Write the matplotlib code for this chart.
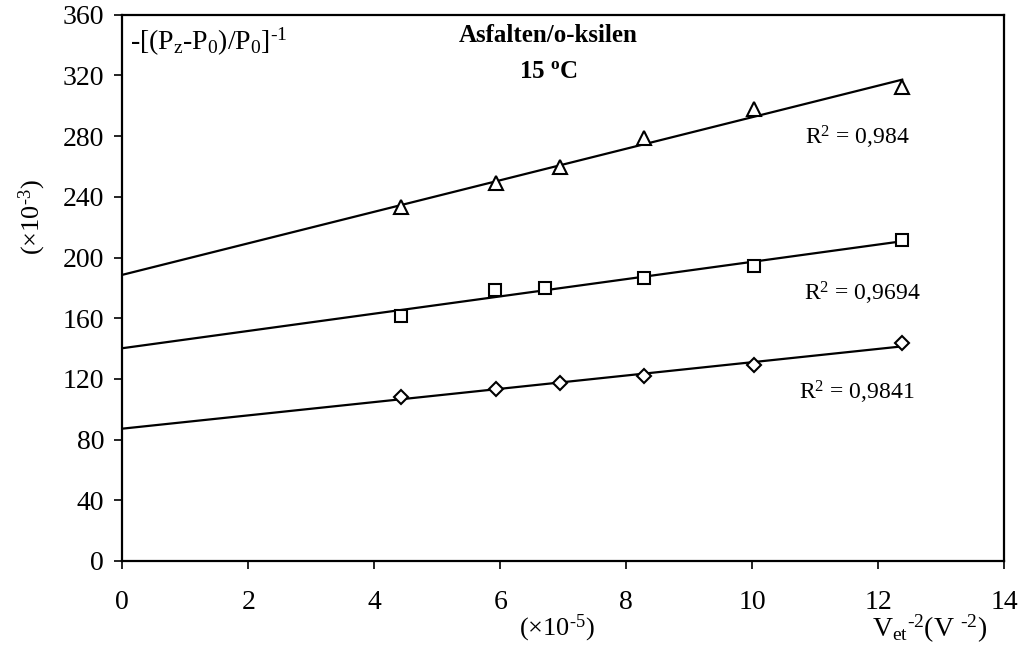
import numpy as np
import matplotlib
matplotlib.use("Agg")
import matplotlib.pyplot as plt

plt.rcParams['font.family'] = ['Liberation Serif', 'DejaVu Serif']
plt.rcParams['mathtext.fontset'] = 'custom'
plt.rcParams['mathtext.rm'] = 'Liberation Serif'
plt.rcParams['mathtext.it'] = 'Liberation Serif:italic'
plt.rcParams['mathtext.bf'] = 'Liberation Serif:bold'

# data (x in 1e-5 V^-2, y in 1e-3)
tri_x = [4.43, 5.93, 6.95, 8.28, 10.03, 12.38]
tri_y = [233.0, 248.8, 259.7, 278.6, 297.6, 312.5]
sq_x = [4.43, 5.92, 6.71, 8.28, 10.03, 12.38]
sq_y = [161.6, 178.8, 180.1, 186.5, 194.4, 211.8]
dia_x = [4.43, 5.93, 6.95, 8.28, 10.03, 12.38]
dia_y = [107.9, 113.5, 117.6, 121.6, 129.3, 143.6]
r2_labels = ['0,984', '0,9694', '0,9841']

H = '\u2010'  # plain hyphen inside mathtext

fig = plt.figure(figsize=(10.32, 6.5), dpi=100)
ax = fig.add_axes([122.3/1032, 1-561/650, (1004.3-122.3)/1032, (561-14.7)/650])

series = [(tri_x, tri_y, '^', 10), (sq_x, sq_y, 's', 8), (dia_x, dia_y, 'D', 7)]
for x, y, m, ms in series:
    x = np.array(x); y = np.array(y)
    k, b = np.polyfit(x, y, 1)
    xx = np.array([0, x.max()])
    ax.plot(xx, k*xx + b, color='black', lw=1.6, zorder=2)
    ax.plot(x, y, ls='none', marker=m, ms=ms, mfc='white', mec='black', mew=1.5, zorder=3)

ax.set_xlim(0, 14)
ax.set_ylim(0, 360)
ax.set_xticks(range(0, 15, 2))
ax.set_yticks(range(0, 361, 40))
for s in ax.spines.values():
    s.set_linewidth(1.6)
ax.tick_params(axis='both', direction='out', length=6, width=1.2, labelsize=20)
ax.tick_params(axis='x', pad=15)
ax.tick_params(axis='y', pad=7)

# texts
fig.text(130/1032, 1-42/650,
         r'-[(P$_\mathregular{z}$-P$_\mathregular{0}$)/P$_\mathregular{0}$]$^\mathregular{' + H + '1}$',
         fontsize=20, ha='left', va='center')
fig.text(548/1032, 1-36/650, 'Asfalten/o-ksilen', fontsize=18, fontweight='bold', ha='center', va='center')
fig.text(548/1032, 1-72/650, r'15 $^\mathbf{o}$C', fontsize=18, fontweight='bold', ha='center', va='center')

r2_pos = [(805, 137), (804, 293), (799, 392)]
for (px, py), lab in zip(r2_pos, r2_labels):
    fig.text(px/1032, 1-py/650, r'R$^\mathregular{2}$ = ' + lab, fontsize=17, ha='left', va='center')

fig.text(32/1032, 1-217/650, r'($\times$10$^\mathregular{' + H + '3}$)', fontsize=19, rotation=90,
         ha='center', va='center')
fig.text(557/1032, 1-628/650, r'($\times$10$^\mathregular{' + H + '5}$)', fontsize=19, ha='center', va='center')
fig.text(930/1032, 1-629/650,
         r'V$_\mathregular{et}$$^\mathregular{' + H + '2}$(V $^\mathregular{' + H + '2}$)',
         fontsize=20, ha='center', va='center')

fig.savefig('out.png', dpi=100)
